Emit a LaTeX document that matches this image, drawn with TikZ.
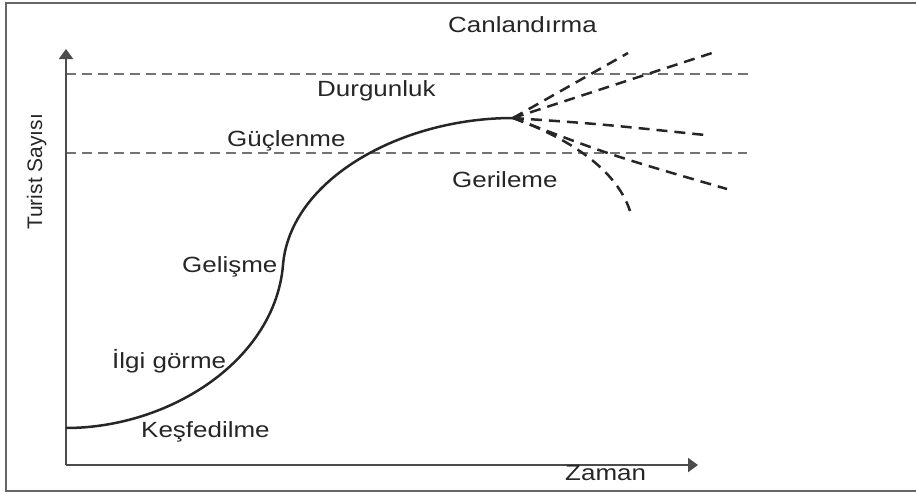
\documentclass[tikz,border=0pt]{standalone}
\usepackage{fontspec}
\setmainfont{Liberation Sans}
\newfontfamily\lblfont[FakeStretch=1.18]{Liberation Sans}
\newfontfamily\axfont{Liberation Sans}
\usetikzlibrary{arrows.meta}
\begin{document}
\begin{tikzpicture}[x=1pt,y=-1pt,
  lbl/.style={font=\lblfont\fontsize{22}{26}\selectfont, text=black!85, inner sep=0pt, anchor=base west},
  axlbl/.style={font=\axfont\fontsize{21}{25}\selectfont, text=black!85, inner sep=0pt, anchor=base west, rotate=90},
  axisline/.style={draw=black!70, line width=2.2pt, -{Triangle[width=14pt,length=10pt]}},
  level/.style={draw=black!55, line width=1.9pt, dash pattern=on 10pt off 6pt},
  fan/.style={draw=black!85, line width=2.5pt, dash pattern=on 11pt off 7pt},
  lifecurve/.style={draw=black!85, line width=2.5pt},
  frame/.style={draw=black!60, line width=2.8pt}]
\useasboundingbox (0,0) rectangle (916,493);
% frame (right side outside the picture)
\draw[frame] (916,3) -- (6,3) -- (6,491) -- (916,491);
% named points
\coordinate (O) at (66,465);
\coordinate (Ytip) at (66,49);
\coordinate (Xtip) at (698,465);
\coordinate (D1a) at (66,74);  \coordinate (D1b) at (753,74);
\coordinate (D2a) at (66,153); \coordinate (D2b) at (747,153);
\coordinate (S) at (66,428);
\coordinate (M) at (283,265);
\coordinate (P) at (513,118);
\coordinate (F1) at (628,53);
\coordinate (F2) at (712,53);
\coordinate (F3) at (705,135);
\coordinate (F4) at (727,189);
\coordinate (F5) at (630,211);
% level lines
\draw[level] (D1a) -- (D1b);
\draw[level] (D2a) -- (D2b);
% axes
\draw[axisline] (O) -- (Ytip);
\draw[axisline] (O) -- (Xtip);
% life cycle curve
\draw[lifecurve] (S) .. controls (170,428) and (275,360) .. (M)
  .. controls (290,180) and (400,118) .. (P);
% fan of possible futures
\draw[fan] (P) -- (F1);
\draw[fan] (P) -- (F2);
\draw[fan] (P) .. controls (600,124) .. (F3);
\draw[fan] (P) .. controls (610,155) .. (F4);
\draw[fan] (P) .. controls (560,135) and (615,165) .. (F5);
% labels
\node[lbl] (canl) at (448,32) {Canlandırma};
\node[lbl] (durg) at (317,96) {Durgunluk};
\node[lbl] (gucl) at (227,146) {Güçlenme};
\node[lbl] (geri) at (452,187) {Gerileme};
\node[lbl] (geli) at (182,272) {Gelişme};
\node[lbl] (ilgi) at (112,368) {İlgi görme};
\node[lbl] (kesf) at (141,437) {Keşfedilme};
\node[lbl] (zam) at (565,480) {Zaman};
\node[axlbl] (turist) at (42,230) {Turist Sayısı};
\end{tikzpicture}
\end{document}
